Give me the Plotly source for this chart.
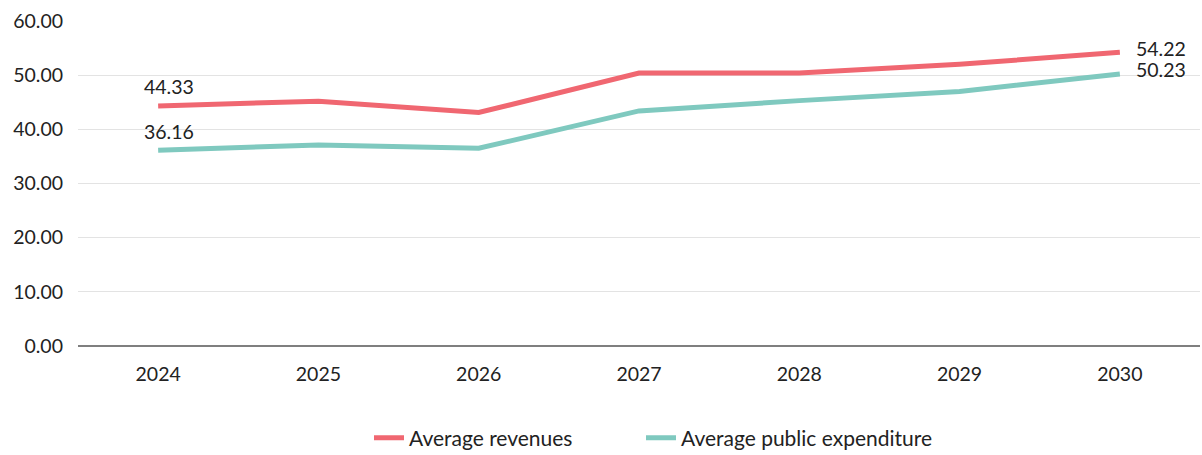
import plotly.graph_objects as go

years = ["2024", "2025", "2026", "2027", "2028", "2029", "2030"]
revenues = [44.33, 45.2, 43.1, 50.4, 50.4, 52.0, 54.22]
expenditure = [36.16, 37.1, 36.5, 43.4, 45.3, 47.0, 50.23]
y_ticks = [0, 10, 20, 30, 40, 50, 60]

RED = "#F06771"
TEAL = "#7FC9BF"
FONT = "Lato"
TXT = "#222222"

fig = go.Figure()
fig.add_trace(go.Scatter(x=years, y=revenues, mode="lines", name="Average revenues",
                         line=dict(color=RED, width=5), legend="legend"))
fig.add_trace(go.Scatter(x=years, y=expenditure, mode="lines", name="Average public expenditure",
                         line=dict(color=TEAL, width=5), legend="legend2"))

# value labels: first point above, last point to the right (x given as category index)
last = len(years) - 1
for series in (revenues, expenditure):
    fig.add_annotation(x=0, y=series[0], text=f"{series[0]:.2f}", showarrow=False,
                       yshift=19, xshift=11, font=dict(family=FONT, size=19.5, color=TXT))
    fig.add_annotation(x=last, y=series[-1], text=f"{series[-1]:.2f}", showarrow=False,
                       xanchor="left", xshift=14, yshift=4,
                       font=dict(family=FONT, size=19.5, color=TXT))

legend_common = dict(orientation="h", xref="container", yref="container",
                     xanchor="left", y=1 - 438 / 455, yanchor="middle",
                     font=dict(family=FONT, size=21, color=TXT))

fig.update_layout(
    width=1202, height=455,
    margin=dict(l=78, r=2, t=21, b=109, autoexpand=False),
    paper_bgcolor="white", plot_bgcolor="white",
    font=dict(family=FONT, size=19.5, color=TXT),
    showlegend=True,
    legend=dict(x=369 / 1202, **legend_common),
    legend2=dict(x=641 / 1202, **legend_common),
    xaxis=dict(type="category", range=[-0.5, 6.5], showgrid=False, ticks="",
               showline=False, zeroline=False, ticklabelstandoff=14, automargin=False,
               tickfont=dict(size=19.5)),
    yaxis=dict(range=[0, 60], tickvals=y_ticks, tickformat=".2f", showgrid=True,
               gridcolor="#E3E3E3", gridwidth=1, zeroline=True, zerolinecolor="#7F7F7F",
               zerolinewidth=1.5, ticks="", ticklabelstandoff=14, showline=False,
               automargin=False, tickfont=dict(size=19.5)),
)

fig.write_html("out.html")
